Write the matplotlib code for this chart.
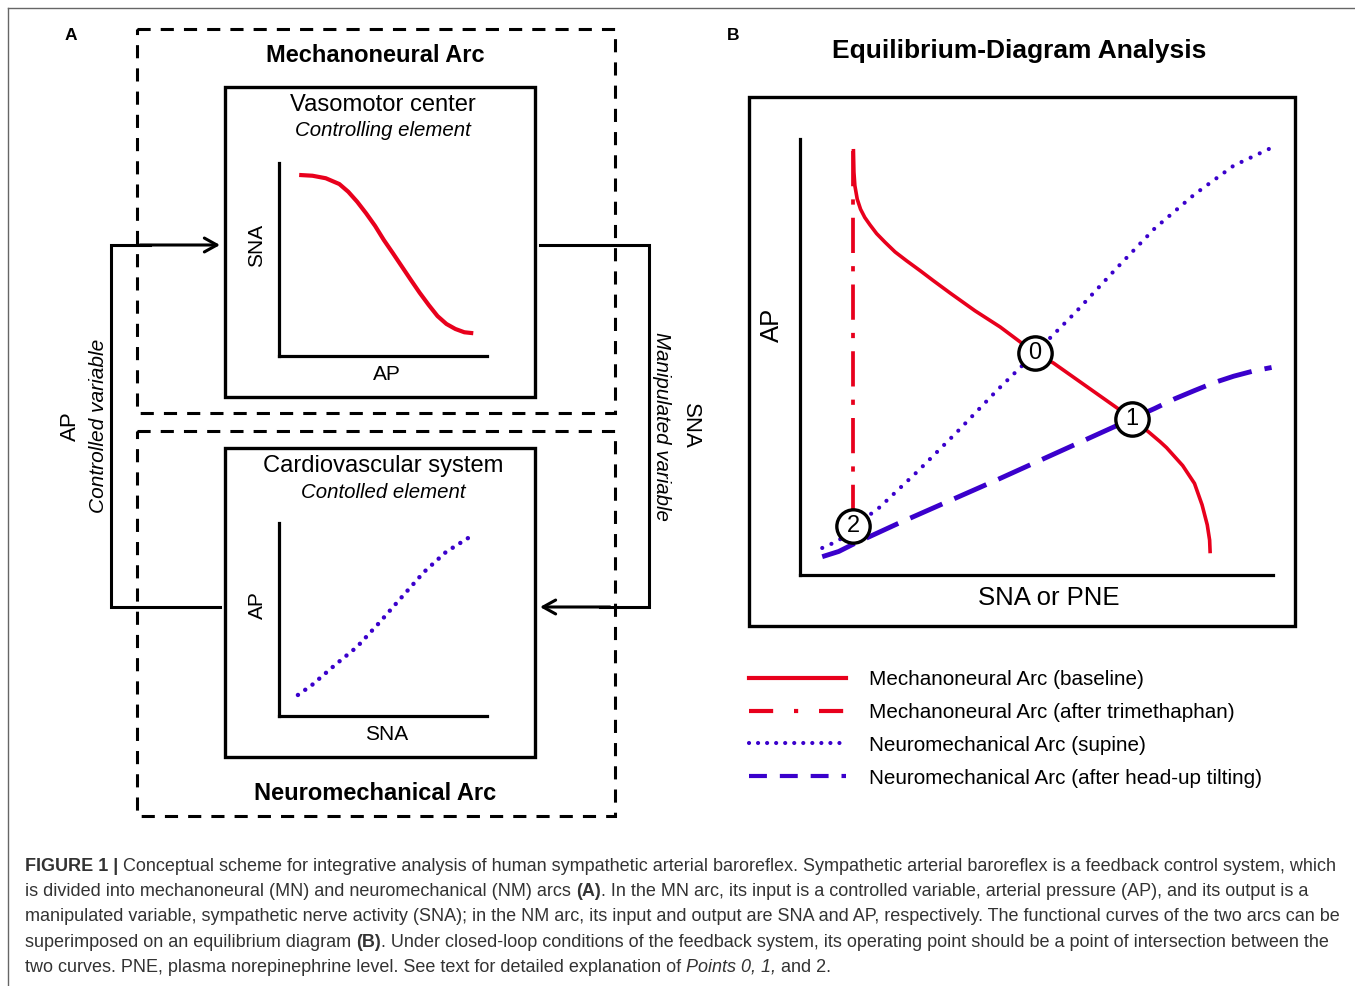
import matplotlib
matplotlib.use('Agg')
import matplotlib.pyplot as plt
from matplotlib.lines import Line2D
from matplotlib.patches import Rectangle

plt.rcParams['font.family'] = ['Liberation Sans', 'DejaVu Sans']

# ---------------- data (normalized 0-100 units) ----------------
# Panel A top: vasomotor center (input AP -> output SNA)
mn_ap = [9.7, 16.1, 22.5, 29.0, 33.3, 37.6, 41.9, 46.2, 50.4, 54.8, 59.1, 63.4, 67.6, 72.0,
         76.2, 80.5, 84.8, 89.1, 93.4]
mn_sna = [93.8, 93.4, 92.1, 89.1, 85.1, 79.9, 73.9, 67.4, 60.1, 53.2, 46.3, 39.4, 32.8, 26.4,
          20.7, 16.6, 14.0, 12.3, 11.8]
# Panel A bottom: cardiovascular system (input SNA -> output AP)
nm_sna = [9.1, 15.9, 26.9, 37.5, 48.1, 59.1, 69.7, 80.3, 90.9]
nm_ap = [10.9, 16.1, 26.4, 35.8, 48.2, 61.7, 74.6, 85.0, 92.2]

# Panel B: equilibrium diagram (x: SNA or PNE, y: AP)
mn_base_x = [11.3, 11.4, 11.6, 12.1, 12.8, 13.7, 14.8, 16.2, 18.0, 20.1, 22.5, 25.4, 28.2, 31.7,
             37.0, 42.3, 49.7, 53.6, 67.7, 70.2, 73.6, 76.1, 77.5, 80.9, 83.4, 85.0, 86.1, 86.6, 86.7]
mn_base_y = [97.3, 92.4, 89.3, 86.2, 83.9, 82.0, 80.3, 78.3, 76.3, 74.1, 72.1, 69.8, 67.5, 64.7,
             60.6, 56.9, 50.9, 48.6, 37.8, 35.8, 32.9, 30.6, 29.2, 25.1, 21.0, 16.1, 11.5, 8.0, 5.4]
mn_trim_x = [11.3, 11.3]
mn_trim_y = [97.3, 11.2]
nm_supine_x = [4.7, 8.2, 11.4, 16.5, 24.9, 33.2, 41.6, 49.7, 58.3, 66.7, 75.0, 83.4, 91.7, 99.7]
nm_supine_y = [6.2, 7.9, 11.2, 15.2, 23.8, 32.8, 42.3, 50.9, 60.3, 70.1, 79.5, 87.3, 93.9, 98.0]
nm_tilt_x = [4.7, 8.2, 11.5, 16.5, 20.7, 41.6, 70.3, 75.0, 79.2, 83.4, 87.5, 91.7, 95.9, 99.7]
nm_tilt_y = [4.2, 5.4, 7.2, 9.7, 11.8, 21.8, 35.9, 38.2, 40.4, 42.3, 44.1, 45.6, 46.8, 47.6]
point_labels = ['0', '1', '2']
point_x = [49.7, 70.2, 11.3]
point_y = [50.9, 35.8, 11.2]

legend_labels = ['Mechanoneural Arc (baseline)',
                 'Mechanoneural Arc (after trimethaphan)',
                 'Neuromechanical Arc (supine)',
                 'Neuromechanical Arc (after head-up tilting)']

caption_lines = [
    [('FIGURE 1 | ', 'b'), ('Conceptual scheme for integrative analysis of human sympathetic arterial baroreflex. Sympathetic arterial baroreflex is a feedback control system, which', 'n')],
    [('is divided into mechanoneural (MN) and neuromechanical (NM) arcs ', 'n'), ('(A)', 'b'), ('. In the MN arc, its input is a controlled variable, arterial pressure (AP), and its output is a', 'n')],
    [('manipulated variable, sympathetic nerve activity (SNA); in the NM arc, its input and output are SNA and AP, respectively. The functional curves of the two arcs can be', 'n')],
    [('superimposed on an equilibrium diagram ', 'n'), ('(B)', 'b'), ('. Under closed-loop conditions of the feedback system, its operating point should be a point of intersection between the', 'n')],
    [('two curves. PNE, plasma norepinephrine level. See text for detailed explanation of ', 'n'), ('Points 0, 1,', 'i'), (' and 2.', 'n')],
]

# ---------------- style ----------------
RED = '#E8001C'
BLUE = '#3A00CC'
W, H = 1355, 986

fig = plt.figure(figsize=(W / 100, H / 100), dpi=100)
ov = fig.add_axes([0, 0, 1, 1])
ov.set_xlim(0, W)
ov.set_ylim(H, 0)
ov.axis('off')


def px_axes(x0, y0, x1, y1):
    ax = fig.add_axes([x0 / W, 1 - y1 / H, (x1 - x0) / W, (y1 - y0) / H])
    ax.set_xlim(0, 100)
    ax.set_ylim(0, 100)
    ax.patch.set_alpha(0)
    for s in ['top', 'right']:
        ax.spines[s].set_visible(False)
    for s in ['left', 'bottom']:
        ax.spines[s].set_linewidth(2.3)
    ax.set_xticks([])
    ax.set_yticks([])
    return ax

# frame lines of the page
ov.plot([8, W], [8, 8], color='#666666', lw=1.0)
ov.plot([8, 8], [8, H], color='#666666', lw=1.0)

# ---------------- Panel A ----------------
ov.text(71, 35, 'A', fontsize=12.5, fontweight='bold', ha='center', va='center')
dash_kw = dict(fill=False, lw=2.2, ls=(0, (4.3, 3.3)), ec='black')
ov.add_patch(Rectangle((137, 29), 478, 384, **dash_kw))
ov.add_patch(Rectangle((137, 431), 478, 385, **dash_kw))
ov.add_patch(Rectangle((225, 87), 310, 310, fill=False, lw=2.4, ec='black'))
ov.add_patch(Rectangle((225, 448), 310, 309, fill=False, lw=2.4, ec='black'))

ov.text(375, 55, 'Mechanoneural Arc', fontsize=17, fontweight='bold', ha='center', va='center')
ov.text(383, 105, 'Vasomotor center', fontsize=17.1, ha='center', va='center')
ov.text(383, 131, 'Controlling element', fontsize=14.7, fontstyle='italic', ha='center', va='center')
ov.text(383, 466, 'Cardiovascular system', fontsize=17.1, ha='center', va='center')
ov.text(383, 492, 'Contolled element', fontsize=14.7, fontstyle='italic', ha='center', va='center')
ov.text(375, 793, 'Neuromechanical Arc', fontsize=17, fontweight='bold', ha='center', va='center')

ax_top = px_axes(279, 163, 487, 356)
ax_top.plot(mn_ap, mn_sna, color=RED, lw=3.0, solid_capstyle='butt')
ov.text(257, 245, 'SNA', fontsize=15, rotation=90, ha='center', va='center')
ov.text(387, 374, 'AP', fontsize=15, ha='center', va='center')

ax_bot = px_axes(279, 523, 487, 716)
ax_bot.plot(nm_sna, nm_ap, color=BLUE, lw=3.2, ls=(0, (0.01, 2.0)), dash_capstyle='round')
ov.text(257, 605, 'AP', fontsize=15, rotation=90, ha='center', va='center')
ov.text(387, 735, 'SNA', fontsize=15, ha='center', va='center')

# feedback loop connectors
ov.plot([220, 111, 111, 150], [607, 607, 245, 245], color='black', lw=2.2, solid_joinstyle='miter')
ov.annotate('', xy=(220, 245), xytext=(140, 245),
            arrowprops=dict(arrowstyle='->,head_length=0.9,head_width=0.5', lw=2.2,
                            color='black', shrinkA=0, shrinkB=0))
ov.plot([540, 649, 649, 600], [245, 245, 607, 607], color='black', lw=2.2, solid_joinstyle='miter')
ov.annotate('', xy=(540, 607), xytext=(610, 607),
            arrowprops=dict(arrowstyle='->,head_length=0.9,head_width=0.5', lw=2.2,
                            color='black', shrinkA=0, shrinkB=0))

ov.text(70, 426, 'AP', fontsize=16, rotation=90, ha='center', va='center')
ov.text(98, 426, 'Controlled variable', fontsize=15, fontstyle='italic', rotation=90, ha='center', va='center')
ov.text(690, 426, 'SNA', fontsize=16, rotation=-90, ha='center', va='center')
ov.text(661, 426, 'Manipulated variable', fontsize=14.8, fontstyle='italic', rotation=-90, ha='center', va='center')

# ---------------- Panel B ----------------
ov.text(733, 35, 'B', fontsize=12.5, fontweight='bold', ha='center', va='center')
ov.text(1019, 51, 'Equilibrium-Diagram Analysis', fontsize=19, fontweight='bold', ha='center', va='center')
ov.add_patch(Rectangle((749, 97), 546, 529, fill=False, lw=2.4, ec='black'))

axb = px_axes(800, 139, 1273, 575)
axb.plot(mn_trim_x, mn_trim_y, color=RED, lw=2.7, ls=(0, (9.4, 3.5, 1.4, 3.5)), clip_on=False)
axb.plot(mn_base_x, mn_base_y, color=RED, lw=2.6, clip_on=False)
axb.plot(nm_supine_x, nm_supine_y, color=BLUE, lw=3.0, ls=(0, (0.01, 2.4)),
         dash_capstyle='round', clip_on=False)
axb.plot(nm_tilt_x, nm_tilt_y, color=BLUE, lw=3.5, ls=(0, (7.2, 2.7)), clip_on=False)
axb.plot(point_x, point_y, 'o', ms=24, mfc='white', mec='black', mew=2.4, clip_on=False, zorder=5)
for lab, x, y in zip(point_labels, point_x, point_y):
    axb.text(x, y, lab, fontsize=17, ha='center', va='center', zorder=6)
ov.text(772, 325, 'AP', fontsize=18.5, rotation=90, ha='center', va='center')
ov.text(1049, 598, 'SNA or PNE', fontsize=18.5, ha='center', va='center')

handles = [
    Line2D([], [], color=RED, lw=3.0),
    Line2D([], [], color=RED, lw=3.0, ls=(0, (5.8, 5.0, 1.0, 5.0))),
    Line2D([], [], color=BLUE, lw=3.0, ls=(0, (0.01, 2.16)), dash_capstyle='round'),
    Line2D([], [], color=BLUE, lw=3.0, ls=(0, (4.3, 3.1))),
]
fig.legend(handles, legend_labels, loc='upper left', bbox_to_anchor=(749 / W, 1 - 670 / H),
           frameon=False, fontsize=14.9, handlelength=4.69, handletextpad=1.11,
           labelspacing=0.67, borderpad=0, borderaxespad=0)

# ---------------- caption ----------------
fig.canvas.draw()
rend = fig.canvas.get_renderer()
cap_fs = 12.95
cap_color = '#333333'
base_y = [871, 896, 921, 947, 972]
for segs, by in zip(caption_lines, base_y):
    x = 25
    for txt, st in segs:
        kw = dict(fontsize=cap_fs, color=cap_color, ha='left', va='baseline')
        if st == 'b':
            kw['fontweight'] = 'bold'
        if st == 'i':
            kw['fontstyle'] = 'italic'
        t = ov.text(x, by, txt, **kw)
        x += t.get_window_extent(renderer=rend).width

fig.savefig('out.png', dpi=100)
